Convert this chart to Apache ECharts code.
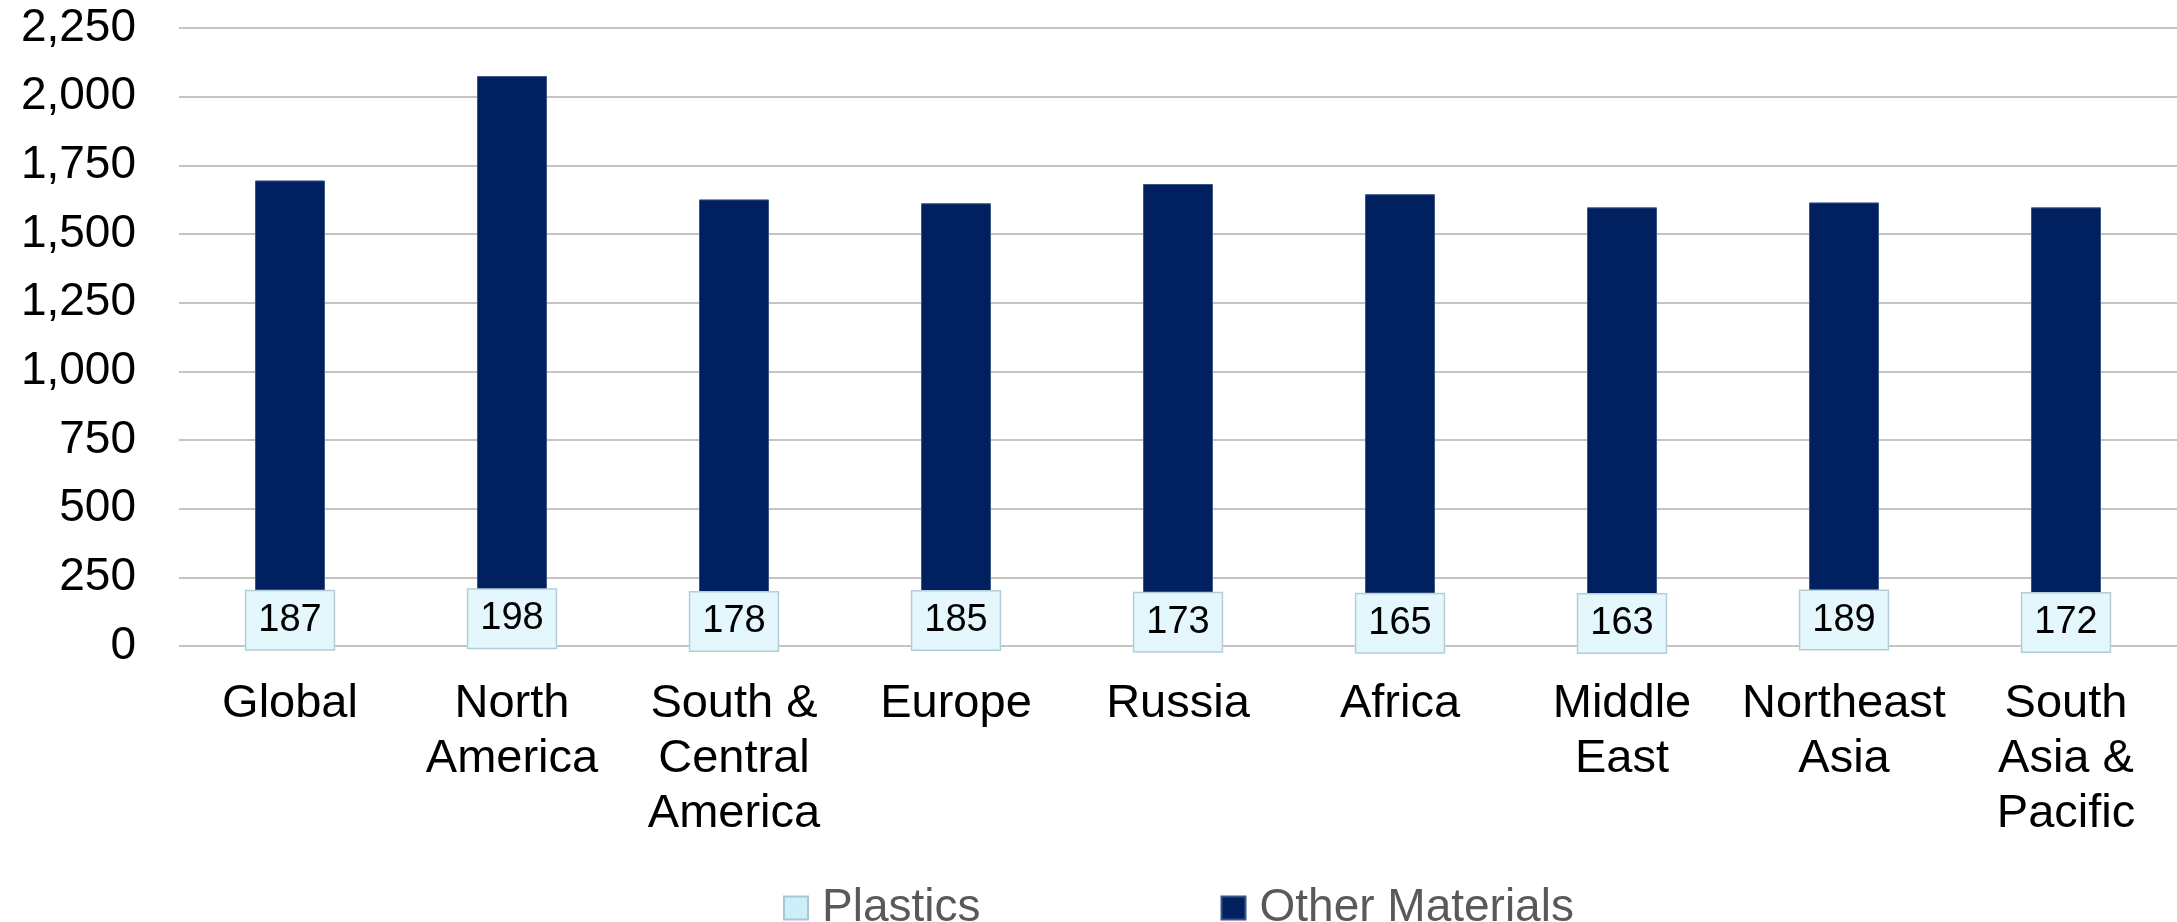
<!DOCTYPE html>
<html>
<head>
<meta charset="utf-8">
<script src="https://cdn.jsdelivr.net/npm/echarts@6/dist/echarts.min.js"></script>
<style>
html,body{margin:0;padding:0;background:#fff;}
#chart{width:2177px;height:922px;}
</style>
</head>
<body>
<div id="chart"></div>
<script>
const categories = ['Global', 'North\nAmerica', 'South &\nCentral\nAmerica', 'Europe', 'Russia', 'Africa', 'Middle\nEast', 'Northeast\nAsia', 'South\nAsia &\nPacific'];
const plastics = [187, 198, 178, 185, 173, 165, 163, 189, 172];
const otherMaterials = [1508, 1877, 1448, 1427, 1509, 1480, 1434, 1426, 1425];
const yTicks = [0, 250, 500, 750, 1000, 1250, 1500, 1750, 2000, 2250];

const FONT = '"Liberation Sans", Arial, sans-serif';
const chart = echarts.init(document.getElementById('chart'), null, {renderer: 'canvas'});
chart.setOption({
  animation: false,
  backgroundColor: '#ffffff',
  textStyle: {fontFamily: FONT},
  grid: {left: 179, right: 0, top: 28, bottom: 922 - 646, containLabel: false},
  legend: {
    data: ['Plastics', 'Other Materials'],
    left: 778,
    top: 880,
    icon: 'rect',
    itemWidth: 24,
    itemHeight: 23,
    itemGap: 240,
    textStyle: {fontFamily: FONT, fontSize: 46, color: '#595959', padding: [0, 0, 0, 9]}
  },
  xAxis: {
    type: 'category',
    data: categories,
    axisLine: {show: false},
    axisTick: {show: false},
    axisLabel: {
      fontFamily: FONT, fontSize: 47, color: '#000', lineHeight: 55, margin: 31, interval: 0
    }
  },
  yAxis: {
    type: 'value',
    min: yTicks[0],
    max: yTicks[yTicks.length - 1],
    interval: 250,
    axisLine: {show: false},
    axisTick: {show: false},
    splitLine: {lineStyle: {color: '#C4C4C4', width: 2}},
    axisLabel: {
      fontFamily: FONT, fontSize: 46, color: '#000', margin: 43,
      formatter: v => v.toLocaleString('en-US')
    }
  },
  series: [
    {
      name: 'Plastics',
      type: 'bar',
      stack: 'total',
      data: plastics,
      barWidth: '31.5%',
      z: 3,
      itemStyle: {color: '#CDEFFA', borderColor: '#A9C7D3', borderWidth: 1},
      label: {
        show: true,
        position: 'inside',
        fontFamily: FONT,
        fontSize: 38,
        color: '#000',
        backgroundColor: '#E4F7FD',
        borderColor: '#B5CDD8',
        borderWidth: 1.5,
        padding: [10, 12, 8, 12],
        lineHeight: 40
      }
    },
    {
      name: 'Other Materials',
      type: 'bar',
      stack: 'total',
      data: otherMaterials,
      barWidth: '31.5%',
      itemStyle: {color: '#002060', borderColor: '#3A5584', borderWidth: 1}
    }
  ]
});
</script>
</body>
</html>
